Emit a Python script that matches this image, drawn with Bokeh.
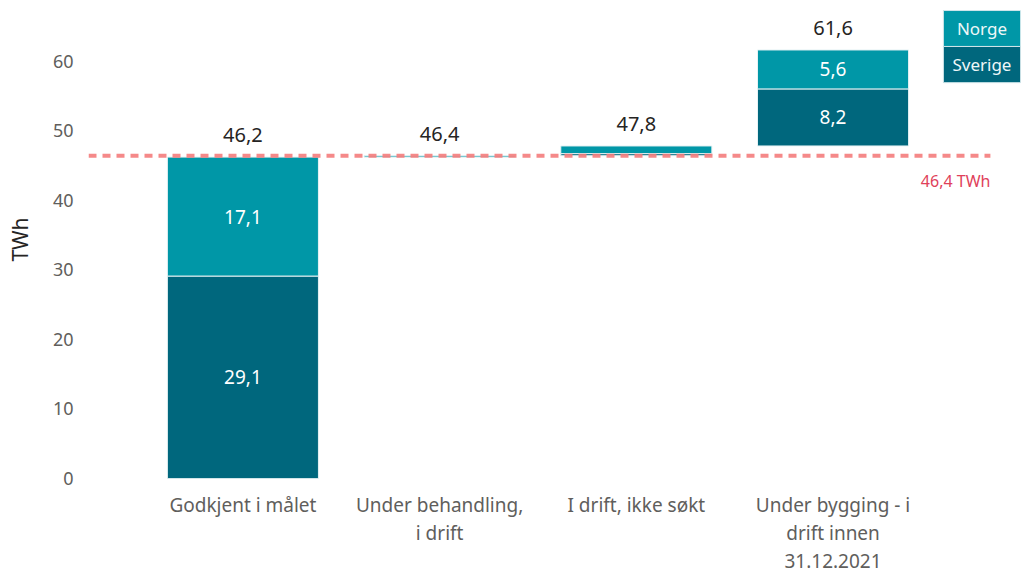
from bokeh.plotting import figure
from bokeh.models import Range1d, FixedTicker
from bokeh.core.properties import value
from bokeh.embed import file_html
from bokeh.resources import INLINE

# ---- data ----
categories = ["Godkjent i målet", "Under behandling,\ni drift", "I drift, ikke søkt",
              "Under bygging - i\ndrift innen\n31.12.2021"]
sverige = [29.1, 0.0, 0.3, 8.2]
norge = [17.1, 0.2, 1.1, 5.6]
target = 46.4
target_label = "46,4 TWh"
series_names = ["Norge", "Sverige"]
y_ticks = [0, 10, 20, 30, 40, 50, 60]

# ---- styling ----
FONT = "Noto Sans"
C_NORGE = "#0097A7"
C_SVERIGE = "#00677D"
C_TARGET = "#F47C7C"
C_TARGET_TXT = "#E0415A"


def fmt(v):
    return f"{v:.1f}".replace(".", ",")


x = list(range(len(categories)))
base = []
acc = 0.0
for s, n in zip(sverige, norge):
    base.append(acc)
    acc += s + n
sv_top = [b + s for b, s in zip(base, sverige)]
no_top = [t + n for t, n in zip(sv_top, norge)]
totals = no_top

X0, X1 = -0.785, 3.953
Y1 = 68.71
p = figure(width=1025, height=578, x_range=Range1d(X0, X1), y_range=Range1d(0, Y1),
           output_backend="svg", toolbar_location=None,
           min_border_left=88, min_border_right=5, min_border_top=0, min_border_bottom=100)
p.outline_line_color = None
p.grid.visible = False
p.background_fill_color = "white"

# axes
p.xaxis.ticker = FixedTicker(ticks=x)
p.xaxis.major_label_overrides = {i: c for i, c in zip(x, categories)}
p.xaxis.axis_line_color = None
p.xaxis.major_tick_line_color = None
p.xaxis.minor_tick_line_color = None
p.xaxis.major_tick_out = 0
p.xaxis.major_tick_in = 0
p.xaxis.axis_label_standoff = 0
p.xaxis.major_label_text_font = FONT
p.xaxis.major_label_text_font_size = "19px"
p.xaxis.major_label_text_color = "#605E5C"
p.xaxis.major_label_standoff = 13
p.xaxis.major_label_text_line_height = 1.08

p.yaxis.ticker = FixedTicker(ticks=y_ticks)
p.yaxis.axis_line_color = None
p.yaxis.major_tick_line_color = None
p.yaxis.minor_tick_line_color = None
p.yaxis.major_tick_out = 0
p.yaxis.major_tick_in = 0
p.yaxis.major_label_text_font = FONT
p.yaxis.major_label_text_font_size = "18px"
p.yaxis.major_label_text_color = "#605E5C"
p.yaxis.major_label_standoff = 15
p.yaxis.axis_label = "TWh"
p.yaxis.axis_label_text_font = FONT
p.yaxis.axis_label_text_font_size = "21px"
p.yaxis.axis_label_text_font_style = "normal"
p.yaxis.axis_label_text_color = "#252423"
p.yaxis.axis_label_standoff = 16

# bars
BW = 0.768
p.vbar(x=x, bottom=base, top=sv_top, width=BW, fill_color=C_SVERIGE,
       line_color="#E6F2F4", line_width=1)
p.vbar(x=x, bottom=sv_top, top=no_top, width=BW, fill_color=C_NORGE,
       line_color="#E6F2F4", line_width=1)

# target line
p.segment(x0=[X0], x1=[3.80], y0=[target], y1=[target], line_color=C_TARGET,
          line_width=4, line_dash="8 6", line_alpha=0.9)
p.text(x=[3.80], y=[target], text=[target_label], y_offset=25, text_align="right",
       text_baseline="middle", text_font=value(FONT), text_font_size="16px",
       text_color=C_TARGET_TXT)

# total labels
p.text(x=x, y=totals, text=[fmt(t) for t in totals], y_offset=-22, text_align="center",
       text_baseline="middle", text_font=value(FONT), text_font_size="20px",
       text_color="#252423")

# inside labels
ix, iy, it = [], [], []
for i in x:
    for lo, hi, v in ((base[i], sv_top[i], sverige[i]), (sv_top[i], no_top[i], norge[i])):
        if v >= 3:
            ix.append(i)
            iy.append((lo + hi) / 2)
            it.append(fmt(v))
p.text(x=ix, y=iy, text=it, text_align="center", text_baseline="middle",
       text_font=value(FONT), text_font_size="19px", text_color="white")

# legend (top right)
LX0, LX1 = 3.561, X1
ly = [67.27, 62.1, 56.9]
p.quad(left=[LX0, LX0], right=[LX1, LX1], top=[ly[0], ly[1]], bottom=[ly[1], ly[2]],
       fill_color=[C_NORGE, C_SVERIGE], line_color="#D0E6EA", line_width=1)
p.text(x=[(LX0 + LX1) / 2] * 2, y=[(ly[0] + ly[1]) / 2, (ly[1] + ly[2]) / 2], text=series_names,
       text_align="center", text_baseline="middle", text_font=value(FONT),
       text_font_size="17px", text_color="#EEF7F8")

open("out.html", "w").write(file_html(p, INLINE))
